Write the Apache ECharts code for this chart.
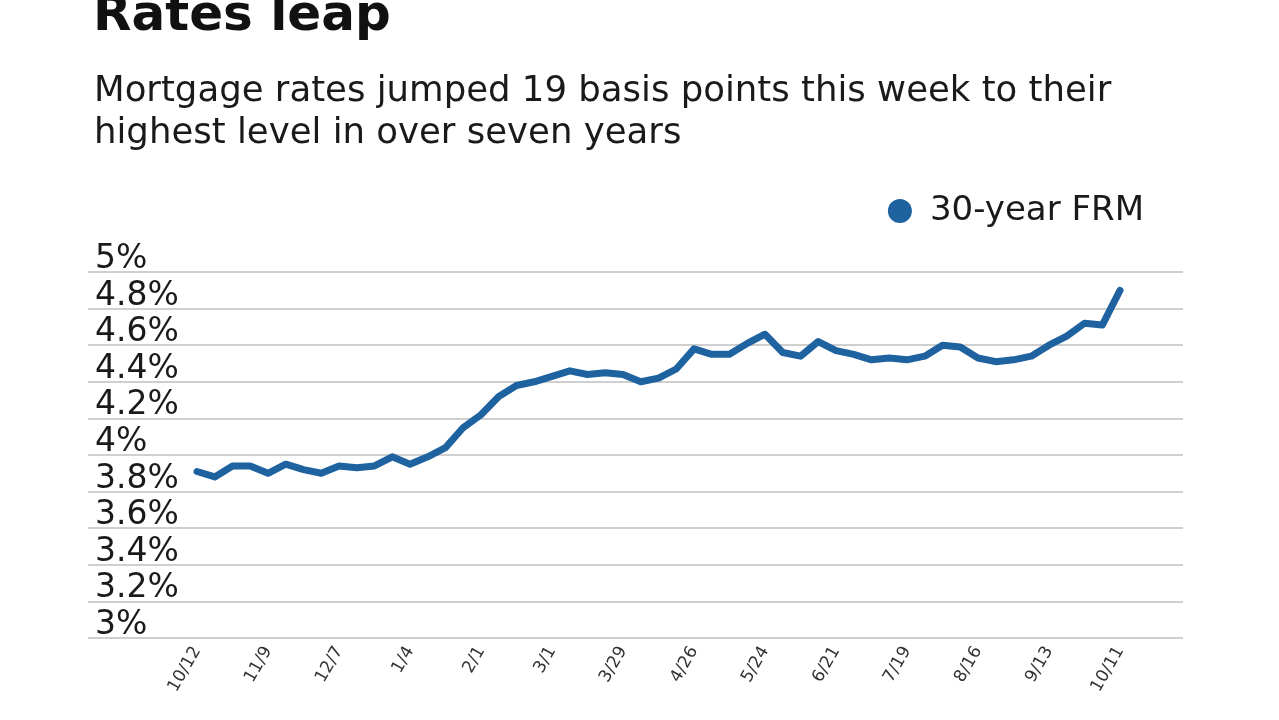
<!DOCTYPE html>
<html>
<head>
<meta charset="utf-8">
<script src="https://cdn.jsdelivr.net/npm/echarts@6/dist/echarts.min.js"></script>
<style>
html,body{margin:0;padding:0;background:#fff;}
#c{width:1279px;height:720px;}
</style>
</head>
<body>
<div id="c"></div>
<script>
const weeks = ['10/12','10/19','10/26','11/2','11/9','11/16','11/23','11/30','12/7','12/14','12/21','12/28',
  '1/4','1/11','1/18','1/25','2/1','2/8','2/15','2/22','3/1','3/8','3/15','3/22','3/29',
  '4/5','4/12','4/19','4/26','5/3','5/10','5/17','5/24','5/31','6/7','6/14','6/21','6/28',
  '7/5','7/12','7/19','7/26','8/2','8/9','8/16','8/23','8/30','9/6','9/13','9/20','9/27','10/4','10/11'];
const frm30 = [3.91,3.88,3.94,3.94,3.90,3.95,3.92,3.90,3.94,3.93,3.94,3.99,
  3.95,3.99,4.04,4.15,4.22,4.32,4.38,4.40,4.43,4.46,4.44,4.45,4.44,
  4.40,4.42,4.47,4.58,4.55,4.55,4.61,4.66,4.56,4.54,4.62,4.57,4.55,
  4.52,4.53,4.52,4.54,4.60,4.59,4.53,4.51,4.52,4.54,4.60,4.65,4.72,4.71,4.90];
const yTicks = [3, 3.2, 3.4, 3.6, 3.8, 4, 4.2, 4.4, 4.6, 4.8, 5];
const yTickLabels = ['3%','3.2%','3.4%','3.6%','3.8%','4%','4.2%','4.4%','4.6%','4.8%','5%'];
const seriesName = '30-year FRM';
const titleText = 'Rates leap';
const subtitleText = 'Mortgage rates jumped 19 basis points this week to their\nhighest level in over seven years';

const FONT = 'DejaVu Sans';
const chart = echarts.init(document.getElementById('c'));
chart.setOption({
  backgroundColor: '#fff',
  animation: false,
  title: [
    { text: titleText, left: 88, top: -13,
      textStyle: { fontFamily: FONT, fontSize: 50, fontWeight: 'bold', color: '#111' } },
    { text: subtitleText, left: 89, top: 66,
      textStyle: { fontFamily: FONT, fontSize: 35.5, fontWeight: 'normal', color: '#1a1a1a', lineHeight: 42 } }
  ],
  legend: {
    data: [seriesName], right: 130, top: 189, icon: 'circle', itemWidth: 24, itemHeight: 24, itemGap: 10,
    textStyle: { fontFamily: FONT, fontSize: 34, color: '#1a1a1a', padding: [0, 0, 0, 13] }
  },
  grid: [
    { left: 88, right: 96, top: 272, bottom: 82 },
    { left: 197, right: 159, top: 272, bottom: 82 }
  ],
  xAxis: [
    { type: 'value', gridIndex: 0, show: false, min: 0, max: 1 },
    { type: 'category', gridIndex: 1, data: weeks, boundaryGap: false,
      axisLine: { show: false }, axisTick: { show: false },
      axisLabel: { interval: 3, rotate: 60, fontFamily: FONT, fontSize: 17, color: '#333', margin: 10 } }
  ],
  yAxis: [
    { type: 'value', gridIndex: 0, min: 3, max: 5, interval: 0.2,
      axisLine: { show: false }, axisTick: { show: false },
      splitLine: { lineStyle: { color: '#cfcfcf', width: 2 } },
      axisLabel: { align: 'left', verticalAlign: 'bottom', margin: -7, lineHeight: 25,
        fontFamily: FONT, fontSize: 33, color: '#1a1a1a',
        formatter: function (v) { const i = yTicks.findIndex(t => Math.abs(t - v) < 1e-6); return i >= 0 ? yTickLabels[i] : ''; } } },
    { type: 'value', gridIndex: 1, min: 3, max: 5, show: false }
  ],
  series: [
    { name: seriesName, type: 'line', xAxisIndex: 1, yAxisIndex: 1, data: frm30,
      showSymbol: false, symbol: 'circle', color: '#1f62a0',
      lineStyle: { color: '#1f62a0', width: 7, join: 'round', cap: 'round' } }
  ]
});
</script>
</body>
</html>
